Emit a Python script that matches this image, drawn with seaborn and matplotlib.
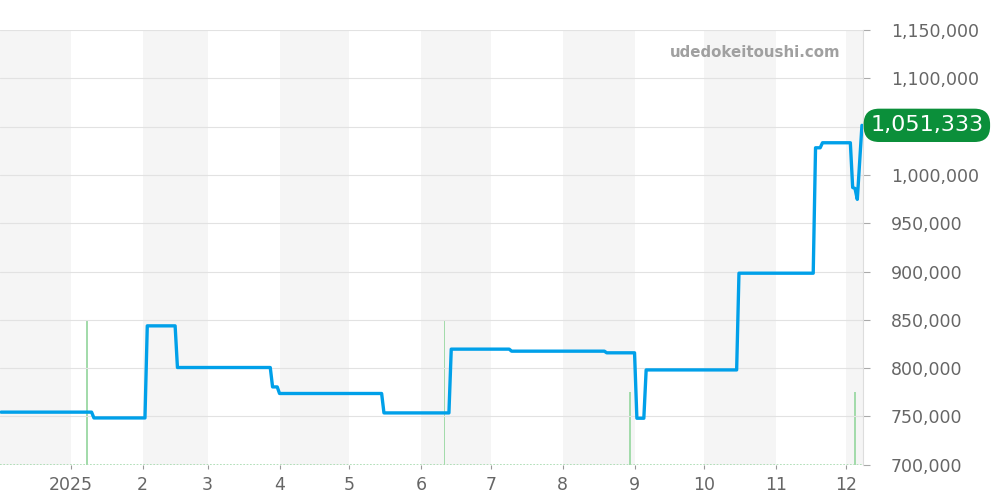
import matplotlib
matplotlib.use("Agg")
import matplotlib.pyplot as plt
import seaborn as sns
import pandas as pd

# ---- data ----
price_dates = ["2024-12-02", "2025-01-10", "2025-01-11", "2025-02-02", "2025-02-03",
               "2025-02-15", "2025-02-16", "2025-03-28", "2025-03-29", "2025-03-31",
               "2025-04-01", "2025-05-15", "2025-05-16", "2025-06-13", "2025-06-14",
               "2025-07-09", "2025-07-10", "2025-08-19", "2025-08-20", "2025-09-01",
               "2025-09-02", "2025-09-05", "2025-09-06", "2025-10-15", "2025-10-16",
               "2025-11-17", "2025-11-18", "2025-11-20", "2025-11-21", "2025-12-03",
               "2025-12-04", "2025-12-05", "2025-12-06", "2025-12-08"]
price_values = [754500, 754500, 748500, 748500, 843800,
                843800, 800700, 800700, 780600, 780600,
                773800, 773800, 753700, 753700, 819700,
                819700, 817600, 817600, 815900, 815900,
                748200, 748200, 798200, 798200, 898300,
                898300, 1028100, 1028100, 1033300, 1033300,
                987000, 986000, 974700, 1051333]

volume_dates = ["2025-01-08", "2025-06-11", "2025-08-30", "2025-12-05"]
volume_values = [2, 2, 1, 1]

month_ticks = ["2025-01-01", "2025-02-01", "2025-03-01", "2025-04-01", "2025-05-01",
               "2025-06-01", "2025-07-01", "2025-08-01", "2025-09-01", "2025-10-01",
               "2025-11-01", "2025-12-01"]
month_labels = ["2025", "2", "3", "4", "5", "6", "7", "8", "9", "10", "11", "12"]
shaded_months = [("2024-12-01", "2025-01-01"), ("2025-02-01", "2025-03-01"),
                 ("2025-04-01", "2025-05-01"), ("2025-06-01", "2025-07-01"),
                 ("2025-08-01", "2025-09-01"), ("2025-10-01", "2025-11-01"),
                 ("2025-12-01", "2026-01-01")]
y_ticks = [700000, 750000, 800000, 850000, 900000, 950000, 1000000, 1050000, 1100000, 1150000]
hidden_tick = 1050000  # covered by the last-value badge in the reference
last_label = "1,051,333"
watermark = "udedokeitoushi.com"

df = pd.DataFrame({"date": pd.to_datetime(price_dates), "price": price_values})
vdf = pd.DataFrame({"date": pd.to_datetime(volume_dates), "vol": volume_values})

# ---- style ----
sns.set_theme(style="white")
plt.rcParams["font.family"] = ["DejaVu Sans"]

fig = plt.figure(figsize=(10, 5), dpi=100)
ax_v = fig.add_axes([0.0, 0.0704, 0.8633, 0.8696])
ax_p = ax_v.twinx()

xmin = pd.Timestamp("2024-12-01 12:40")
xmax = pd.Timestamp("2025-12-08 14:00")

# month shading
for a, b in shaded_months:
    ax_v.axvspan(pd.Timestamp(a), pd.Timestamp(b), color="#f5f5f5", zorder=0, lw=0)

# volume bars
green = "#a3dbab"
ax_v.bar(vdf["date"], vdf["vol"], width=0.6, color=green, zorder=2, lw=0)
ax_v.axhline(0, color=green, lw=1.2, ls=(0, (1, 1)), zorder=3)
ax_v.set_ylim(0, 6)
ax_v.set_yticks([])

# price line
sns.lineplot(data=df, x="date", y="price", ax=ax_p, color="#00a0e9", linewidth=2.4, zorder=5)
ax_p.set_ylim(700000, 1150000)
ax_p.set_yticks(y_ticks)
ax_p.set_yticklabels(["" if v == hidden_tick else f"{v:,}" for v in y_ticks])
ax_p.grid(axis="y", color="#e2e2e2", lw=0.8)
ax_p.grid(axis="x", visible=False)
ax_p.set_xlabel("")
ax_p.set_ylabel("")
ax_p.tick_params(axis="y", right=True, left=False, labelright=True, labelleft=False,
                 length=5, width=0.8, color="#aaaaaa", pad=15, labelsize=12.5,
                 labelcolor="#666666")

ax_v.set_xlim(xmin, xmax)
ax_v.set_xticks(pd.to_datetime(month_ticks))
ax_v.set_xticklabels(month_labels)
ax_v.tick_params(axis="x", bottom=True, length=3, width=0.8, color="#999999",
                 labelsize=12.5, labelcolor="#666666", pad=5)
ax_v.set_xlabel("")
ax_p.set_xlim(xmin, xmax)

for a in (ax_v, ax_p):
    for s in a.spines.values():
        s.set_visible(False)
ax_p.spines["right"].set_visible(True)
ax_p.spines["right"].set_color("#dddddd")
ax_p.spines["right"].set_linewidth(0.8)

# watermark
ax_p.text(0.8746, 0.949, watermark, transform=ax_p.transAxes, ha="center", va="center",
          fontsize=10.8, fontweight="bold", color="#a0a0a0", zorder=6)

# last value label
ax_p.annotate(last_label, xy=(1.0, price_values[-1]), xycoords=("axes fraction", "data"),
              xytext=(7, 0), textcoords="offset pixels", ha="left", va="center",
              fontsize=16, color="white", zorder=10, annotation_clip=False,
              bbox=dict(boxstyle="round,pad=0.3,rounding_size=0.7", fc="#0b8f3a",
                        ec="none"))

fig.savefig("out.png", dpi=100)
